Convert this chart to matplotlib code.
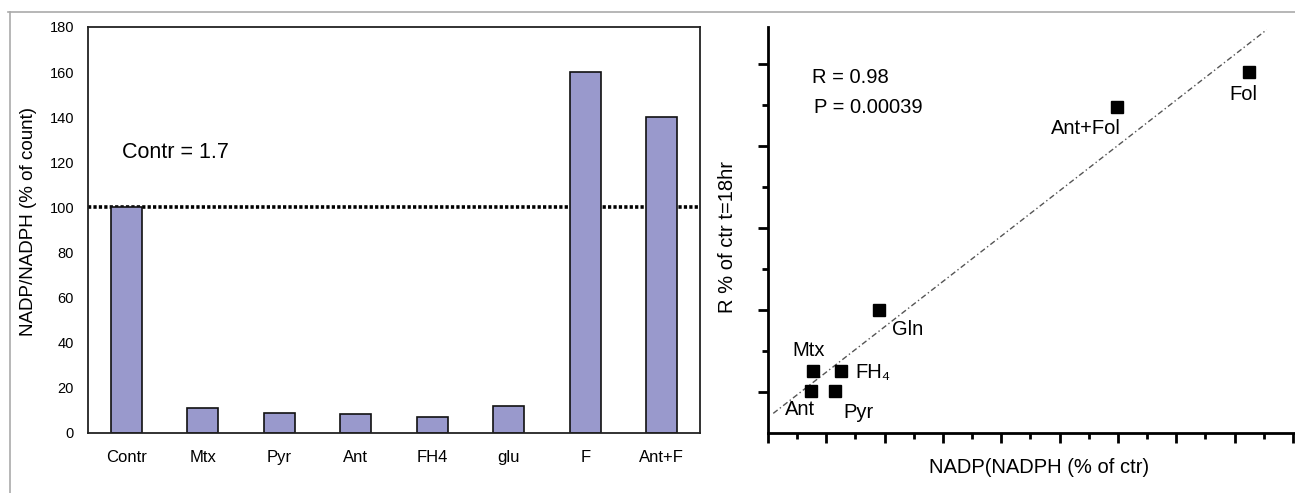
import matplotlib
matplotlib.use("Agg")
import matplotlib.pyplot as plt
from matplotlib.lines import Line2D
import numpy as np

plt.rcParams['font.family'] = ['Liberation Sans', 'DejaVu Sans']

# left panel: NADP/NADPH ratio per treatment
categories = ['Contr', 'Mtx', 'Pyr', 'Ant', 'FH4', 'glu', 'F', 'Ant+F']
ratio_pct = [100, 11, 9, 8.5, 7, 12, 160, 140]
control_level = 100

# right panel: R vs NADP/NADPH
point_names = ['Fol', 'Ant+Fol', 'Gln', 'Mtx', 'FH\u2084', 'Ant', 'Pyr']
nadp_pct = [82.5, 59.8, 19.0, 7.7, 12.5, 7.4, 11.5]
r_pct = [88.0, 79.6, 30.0, 15.1, 15.1, 10.2, 10.2]
fit_range = [0.9, 85.5]

fig = plt.figure(figsize=(12.95, 4.93), dpi=100)

# ---- bar chart ----
ax1 = fig.add_axes([88 / 1295, 60 / 493, 612 / 1295, 406 / 493])
x = np.arange(len(categories))
ax1.axhline(control_level, color='black', lw=2.6, ls=(0, (0.9, 0.6)), zorder=1)
ax1.bar(x, ratio_pct, width=0.4, color='#9999cc', edgecolor='#111111', lw=1.2, zorder=2)
ax1.set_xlim(-0.5, len(categories) - 0.5)
ax1.set_ylim(0, 180)
ax1.set_yticks(np.arange(0, 181, 20))
ax1.set_xticks(x)
ax1.set_xticklabels(categories, fontsize=12)
ax1.tick_params(axis='y', length=0, pad=10, labelsize=10.5)
ax1.tick_params(axis='x', length=0, pad=12)
for s in ax1.spines.values():
    s.set_linewidth(1.3)
    s.set_color('#222222')
ax1.set_ylabel('NADP/NADPH (% of count)', fontsize=13.5, va='center')
ax1.yaxis.set_label_coords(-0.098, 0.52)
ax1.text(-0.06, 124.5, 'Contr = 1.7', fontsize=15.5, ha='left', va='center')

# ---- scatter ----
ax2 = fig.add_axes([768 / 1295, 60 / 493, 527 / 1295, 406 / 493])
ax2.set_xlim(0, 527 / 5.833)
ax2.set_ylim(0, 406 / 4.1)

slope, intercept = np.polyfit(nadp_pct, r_pct, 1)
fx = np.array(fit_range)
ax2.plot(fx, slope * fx + intercept, color='#555555', lw=1.0, ls=(0, (4, 2, 1, 2)), zorder=1)
ax2.plot(nadp_pct, r_pct, 's', color='black', ms=8, zorder=3)

offsets = {
    'Fol': (-4, -16),
    'Ant+Fol': (-22, -16),
    'Gln': (21, -14),
    'Mtx': (-3, 15),
    'FH\u2084': (23, -1),
    'Ant': (-8, -13),
    'Pyr': (17, -15),
}
for name, xv, yv in zip(point_names, nadp_pct, r_pct):
    ax2.annotate(name, (xv, yv), xytext=offsets[name], textcoords='offset points',
                 ha='center', va='center', fontsize=14.5)

ax2.text(7.5, 86.8, 'R = 0.98', fontsize=14.5, ha='left', va='center')
ax2.text(7.9, 79.5, 'P = 0.00039', fontsize=14.5, ha='left', va='center')

for side in ['top', 'right']:
    ax2.spines[side].set_visible(False)
for side in ['left', 'bottom']:
    ax2.spines[side].set_linewidth(2)
ax2.set_xticks(np.arange(0, 91, 10))
ax2.set_xticks(np.arange(5, 91, 10), minor=True)
ax2.set_yticks([10, 30, 50, 70, 90])
ax2.set_yticks([20, 40, 60, 80], minor=True)
ax2.tick_params(which='major', direction='out', length=7, width=2)
ax2.tick_params(which='minor', direction='out', length=4, width=2)
ax2.tick_params(labelbottom=False, labelleft=False)
ax2.set_xlabel('NADP(NADPH (% of ctr)', fontsize=14.5, va='center')
ax2.xaxis.set_label_coords(0.514, -0.086)
ax2.set_ylabel('R % of ctr t=18hr', fontsize=14.5, va='center')
ax2.yaxis.set_label_coords(-0.076, 0.483)

# grey frame lines of the figure panel
fig.add_artist(Line2D([8 / 1295, 1], [1 - 12 / 493, 1 - 12 / 493], color='#aaaaaa', lw=1.2))
fig.add_artist(Line2D([10 / 1295, 10 / 1295], [0, 1 - 12 / 493], color='#aaaaaa', lw=1.2))

fig.savefig('out.png', dpi=100)
